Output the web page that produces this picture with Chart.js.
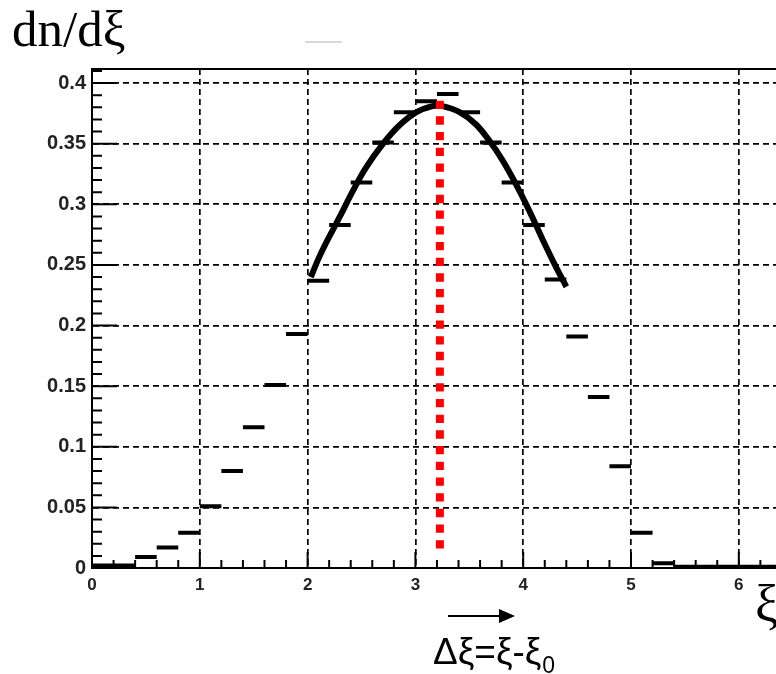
<!DOCTYPE html>
<html>
<head>
<meta charset="utf-8">
<script src="https://cdn.jsdelivr.net/npm/chart.js@4/dist/chart.umd.min.js"></script>
<style>
  body { margin: 0; background: #fff; }
  #wrap { position: relative; width: 776px; height: 674px; }
</style>
</head>
<body>
<div id="wrap"><canvas id="xiChart" width="776" height="674"></canvas></div>
<script>
// histogram: bins of width 0.2 starting at binStart
var binWidth = 0.2;
var binStart = [0, 0.2, 0.4, 0.6, 0.8, 1.0, 1.2, 1.4, 1.6, 1.8, 2.0, 2.2, 2.4, 2.6, 2.8, 3.0,
  3.2, 3.4, 3.6, 3.8, 4.0, 4.2, 4.4, 4.6, 4.8, 5.0, 5.2, 5.4, 5.6, 5.8, 6.0, 6.2];
var binValue = [0.002, 0.002, 0.009, 0.017, 0.029, 0.051, 0.080, 0.116, 0.151, 0.193, 0.237, 0.283, 0.318, 0.351, 0.376, 0.385,
  0.391, 0.376, 0.351, 0.318, 0.283, 0.238, 0.191, 0.141, 0.084, 0.029, 0.004, 0.001, 0.001, 0.001, 0.001, 0.001];

// fitted curve
var fitX = [2.03, 2.10, 2.17, 2.30, 2.42, 2.54, 2.70, 2.85, 3.01, 3.16, 3.25, 3.41, 3.56, 3.69, 3.81, 3.93, 4.06, 4.18, 4.30, 4.40];
var fitY = [0.240, 0.255, 0.268, 0.290, 0.311, 0.330, 0.350, 0.365, 0.376, 0.381, 0.381, 0.376, 0.366, 0.352, 0.336, 0.317, 0.294, 0.271, 0.249, 0.232];

// red marker at xi0
var xi0 = 3.227;
var markerY = [0.3855, 0.0107];

// axes
var xTicks = [0, 1, 2, 3, 4, 5, 6];
var xTickLabels = ['0', '1', '2', '3', '4', '5', '6'];
var yTicks = [0, 0.05, 0.1, 0.15, 0.2, 0.25, 0.3, 0.35, 0.4];
var yTickLabels = ['0', '0.05', '0.1', '0.15', '0.2', '0.25', '0.3', '0.35', '0.4'];
var xMax = 6.345, yMax = 0.4116;
var xMinorStep = 0.2, yMinorStep = 0.01;

//build histogram segments, broken by null points
var histData = [];
binStart.forEach(function (lo, i) {
  var hi = lo + binWidth;
  histData.push({ x: lo, y: binValue[i] }, { x: hi, y: binValue[i] }, { x: hi, y: null });
});
var fitData = fitX.map(function (x, i) { return { x: x, y: fitY[i] }; });
var markerData = markerY.map(function (y) { return { x: xi0, y: y }; });

//ticks inside the frame + top frame line
var frameTicks = {
  id: 'frameTicks',
  beforeDatasetsDraw: function (chart) {
    var ctx = chart.ctx, a = chart.chartArea, x = chart.scales.x, y = chart.scales.y;
    ctx.save();
    ctx.strokeStyle = '#000';
    ctx.lineWidth = 2;
    ctx.beginPath();
    ctx.moveTo(a.left, a.top);
    ctx.lineTo(a.right, a.top);
    for (var i = 0; i * xMinorStep <= xMax + 1e-9; i++) {
      var v = i * xMinorStep;
      var px = x.getPixelForValue(v);
      var major = Math.abs(v - Math.round(v)) < 1e-6;
      ctx.moveTo(px, a.bottom);
      ctx.lineTo(px, a.bottom - (major ? 16 : 8));
    }
    for (var j = 0; j * yMinorStep <= yMax + 1e-9; j++) {
      var w = j * yMinorStep;
      var py = y.getPixelForValue(w);
      var majorY = Math.abs(w * 20 - Math.round(w * 20)) < 1e-6;
      ctx.moveTo(a.left, py);
      ctx.lineTo(a.left + (majorY ? 25 : 10), py);
    }
    ctx.stroke();
    ctx.restore();
  }
};

//free text labels and arrow
var annotations = {
  id: 'annotations',
  afterDraw: function (chart) {
    var ctx = chart.ctx;
    ctx.save();
    ctx.fillStyle = '#000';
    ctx.textBaseline = 'alphabetic';
    ctx.font = '51px "Liberation Serif"';
    ctx.fillText('dn/d\u03be', 12, 46);
    ctx.font = '52px "Liberation Serif"';
    ctx.fillText('\u03be', 755, 621);
    ctx.font = '37px "Liberation Sans"';
    var main = '\u0394\u03be=\u03be-\u03be';
    ctx.fillText(main, 433, 664);
    var w = ctx.measureText(main).width;
    ctx.font = '23px "Liberation Sans"';
    ctx.fillText('0', 433 + w + 1, 673);
    // faint stroke near the top
    ctx.strokeStyle = '#d8d8d8';
    ctx.lineWidth = 2;
    ctx.beginPath();
    ctx.moveTo(305, 42);
    ctx.lineTo(342, 42);
    ctx.stroke();
    // arrow
    ctx.strokeStyle = '#000';
    ctx.lineWidth = 2;
    ctx.beginPath();
    ctx.moveTo(448, 616);
    ctx.lineTo(502, 616);
    ctx.stroke();
    ctx.beginPath();
    ctx.moveTo(515, 616);
    ctx.lineTo(499, 609);
    ctx.lineTo(499, 623);
    ctx.closePath();
    ctx.fill();
    ctx.restore();
  }
};

var tickFont = { family: '"Liberation Sans", Arial, sans-serif', weight: 'bold' };

new Chart(document.getElementById('xiChart').getContext('2d'), {
  type: 'line',
  data: {
    datasets: [
      {
        label: 'xi0',
        data: markerData,
        borderColor: '#ff0000',
        borderWidth: 8,
        borderDash: [8.3, 7.4],
        borderCapStyle: 'butt',
        pointRadius: 0,
        fill: false,
        order: 0
      },
      {
        label: 'fit',
        data: fitData,
        borderColor: '#000',
        borderWidth: 6,
        tension: 0.35,
        pointRadius: 0,
        fill: false,
        order: 1
      },
      {
        label: 'dn/dxi',
        data: histData,
        borderColor: '#000',
        borderWidth: 4,
        borderCapStyle: 'butt',
        spanGaps: false,
        tension: 0,
        pointRadius: 0,
        fill: false,
        order: 2
      }
    ]
  },
  options: {
    responsive: false,
    animation: false,
    layout: { padding: { top: 69, right: 0, left: 0, bottom: 0 } },
    plugins: { legend: { display: false }, tooltip: { enabled: false } },
    scales: {
      x: {
        type: 'linear',
        min: 0,
        max: xMax,
        afterBuildTicks: function (s) { s.ticks = xTicks.map(function (v) { return { value: v }; }); },
        afterFit: function (s) { s.height = 106; },
        ticks: {
          color: '#222',
          padding: 7,
          maxRotation: 0,
          font: Object.assign({ size: 17 }, tickFont),
          callback: function (v, i) { return xTickLabels[i]; }
        },
        grid: { color: '#000', lineWidth: 1.7, drawTicks: false },
        border: { color: '#000', width: 2, dash: [6, 4] }
      },
      y: {
        type: 'linear',
        min: 0,
        max: yMax,
        afterBuildTicks: function (s) { s.ticks = yTicks.map(function (v) { return { value: v }; }); },
        afterFit: function (s) { s.width = 92; },
        ticks: {
          color: '#222',
          padding: 6,
          font: Object.assign({ size: 20 }, tickFont),
          callback: function (v, i) { return yTickLabels[i]; }
        },
        grid: { color: '#000', lineWidth: 1.7, drawTicks: false },
        border: { color: '#000', width: 2, dash: [6, 4] }
      }
    }
  },
  plugins: [frameTicks, annotations]
});
</script>
</body>
</html>
